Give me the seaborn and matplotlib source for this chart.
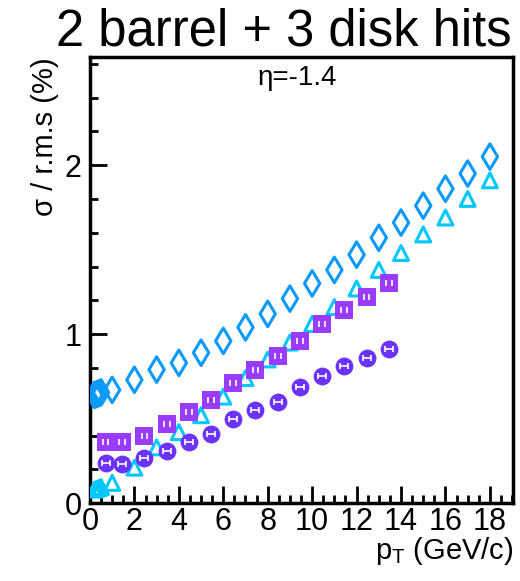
import matplotlib
matplotlib.use("Agg")
import matplotlib.pyplot as plt
from matplotlib.ticker import MultipleLocator
import seaborn as sns
import pandas as pd

# open diamonds
dia_x = [0.2, 0.3, 0.4, 0.5, 1, 2, 3, 4, 5, 6, 7, 8, 9, 10, 11, 12, 13, 14, 15, 16, 17, 18]
dia_y = [0.64, 0.645, 0.65, 0.655, 0.67, 0.73, 0.79, 0.83, 0.89, 0.96, 1.04, 1.12, 1.21, 1.30,
         1.38, 1.47, 1.57, 1.66, 1.76, 1.86, 1.95, 2.05]

# open triangles
tri_x = [0.2, 0.3, 0.4, 0.5, 1, 2, 3, 4, 5, 6, 7, 8, 9, 10, 11, 12, 13, 14, 15, 16, 17, 18]
tri_y = [0.08, 0.085, 0.09, 0.095, 0.12, 0.21, 0.33, 0.42, 0.52, 0.63, 0.74, 0.85, 0.95, 1.06,
         1.16, 1.27, 1.38, 1.48, 1.59, 1.69, 1.80, 1.91]

# filled squares
sq_x = [0.7, 1.45, 2.45, 3.45, 4.45, 5.45, 6.45, 7.45, 8.45, 9.45, 10.45, 11.45, 12.45, 13.45]
sq_y = [0.36, 0.36, 0.40, 0.47, 0.54, 0.61, 0.71, 0.79, 0.87, 0.96, 1.06, 1.14, 1.22, 1.30]

# filled circles
ci_x = [0.7, 1.45, 2.45, 3.45, 4.45, 5.45, 6.45, 7.45, 8.45, 9.45, 10.45, 11.45, 12.45, 13.45]
ci_y = [0.24, 0.23, 0.27, 0.31, 0.36, 0.41, 0.50, 0.55, 0.60, 0.69, 0.75, 0.81, 0.86, 0.91]

sns.set_style("ticks", rc={"text.color": "black", "axes.labelcolor": "black",
                           "xtick.color": "black", "ytick.color": "black",
                           "axes.edgecolor": "black"})
plt.rcParams["font.family"] = ["Liberation Sans", "DejaVu Sans"]

fig = plt.figure(figsize=(5.2, 5.81), dpi=100)
ax = fig.add_axes([0.173, 0.134, 0.814, 0.768])

df_dia = pd.DataFrame({"x": dia_x, "y": dia_y})
df_tri = pd.DataFrame({"x": tri_x, "y": tri_y})
df_sq = pd.DataFrame({"x": sq_x, "y": sq_y})
df_ci = pd.DataFrame({"x": ci_x, "y": ci_y})

sns.scatterplot(data=df_dia, x="x", y="y", marker="d", s=170, facecolor="none",
                edgecolor="#0a99ff", linewidth=2.2, ax=ax, zorder=3)
sns.scatterplot(data=df_tri, x="x", y="y", marker="^", s=115, facecolor="none",
                edgecolor="#00c8ff", linewidth=2.2, ax=ax, zorder=3)
sns.scatterplot(data=df_sq, x="x", y="y", marker="s", s=155, color="#9a3cff",
                edgecolor="#9a3cff", linewidth=0, ax=ax, zorder=3)
sns.scatterplot(data=df_ci, x="x", y="y", marker="o", s=165, color="#6a33ff",
                edgecolor="#6a33ff", linewidth=0, ax=ax, zorder=3)

# white error bars drawn inside the filled markers
ax.errorbar(sq_x, sq_y, xerr=0.13, fmt="none", ecolor="white", elinewidth=0,
            capsize=2, capthick=1.2, zorder=4)
ax.errorbar(ci_x, ci_y, xerr=0.18, fmt="none", ecolor="white", elinewidth=1.2,
            capsize=2, capthick=1.2, zorder=4)

ax.set_xlim(0, 19.05)
ax.set_ylim(0, 2.64)
ax.xaxis.set_major_locator(MultipleLocator(2))
ax.xaxis.set_minor_locator(MultipleLocator(0.5))
ax.yaxis.set_major_locator(MultipleLocator(1))
ax.yaxis.set_minor_locator(MultipleLocator(0.2))
ax.tick_params(which="major", direction="in", length=12, width=2, labelsize=22, pad=3,
               top=False, right=False)
ax.tick_params(axis="y", which="major", pad=6)
ax.tick_params(which="minor", direction="in", length=6, width=2, top=False, right=False)
for s in ax.spines.values():
    s.set_linewidth(2.5)
    s.set_color("black")

ax.set_xlabel("p$_{\\mathregular{T}}$ (GeV/c)", fontsize=21, loc="right", labelpad=-2)
ax.set_ylabel("σ / r.m.s (%)", fontsize=21, loc="top", labelpad=4)
ax.text(0.491, 0.952, "η=-1.4", transform=ax.transAxes, ha="center", va="center", fontsize=20)
fig.text(0.545, 0.945, "2 barrel + 3 disk hits", ha="center", va="center", fontsize=36.5)

fig.savefig("out.png", dpi=100)
